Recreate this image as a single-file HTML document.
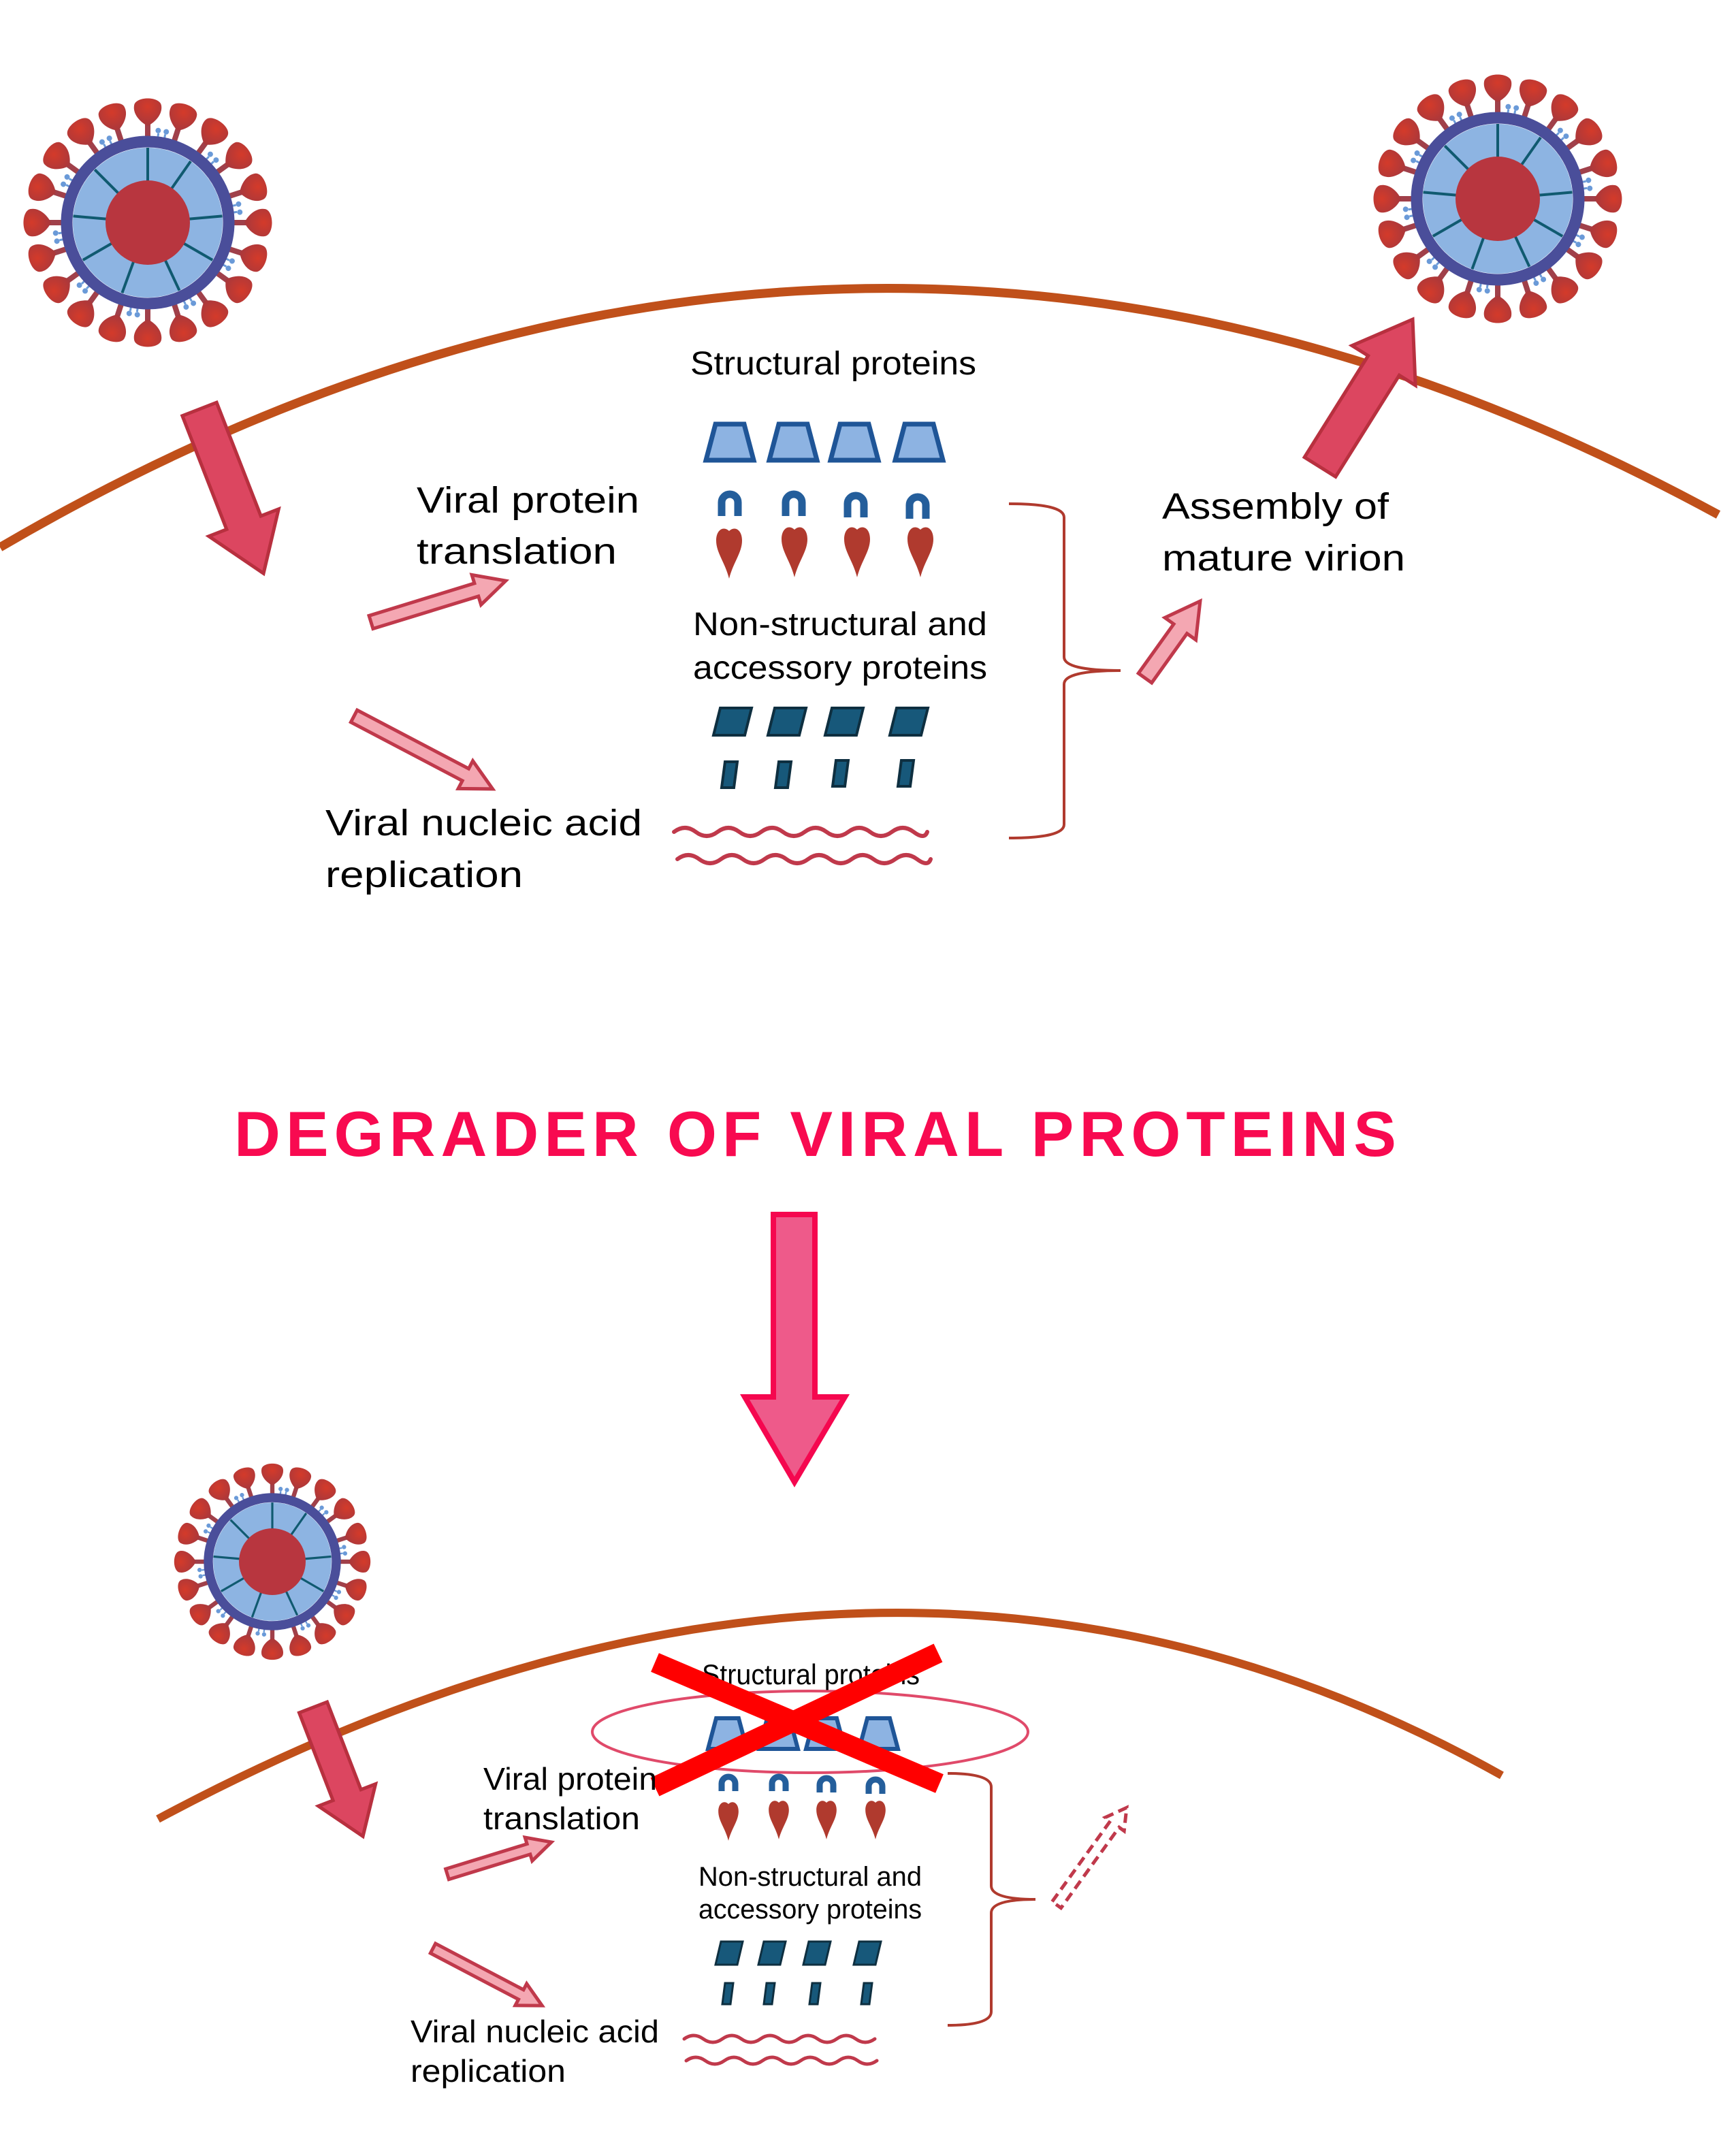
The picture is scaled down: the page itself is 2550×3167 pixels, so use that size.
<!DOCTYPE html>
<html><head><meta charset="utf-8"><style>
html,body{margin:0;padding:0;background:#fff;}
svg{display:block;}
text{font-family:"Liberation Sans",sans-serif;fill:#000;}
</style></head><body>
<svg width="2550" height="3167" viewBox="0 0 2550 3167" xmlns="http://www.w3.org/2000/svg">
<defs>
<radialGradient id="bulb" cx="50%" cy="30%" r="70%"><stop offset="0" stop-color="#D43A2A"/><stop offset="1" stop-color="#A8383C"/></radialGradient>
<g id="spike">
<rect x="-4" y="-150" width="8" height="28" fill="#A0404A"/>
<path d="M0,-142 C-12,-148 -22,-160 -20,-172 C-18,-186 18,-186 20,-172 C22,-160 12,-148 0,-142Z" fill="url(#bulb)"/>
</g>
<g id="spoke"><line x1="0" y1="-60" x2="0" y2="-110" stroke="#105A70" stroke-width="4"/></g>
<g id="ubit"><path d="M-5,-118 V-132 M5,-118 V-132" stroke="#6A9AD8" stroke-width="3" fill="none"/><circle cx="-6" cy="-136" r="4" fill="#6A9AD8"/><circle cx="6" cy="-136" r="4" fill="#6A9AD8"/></g>
<g id="virion">
<use href="#spike" transform="rotate(0)"/><use href="#spike" transform="rotate(18)"/><use href="#spike" transform="rotate(36)"/><use href="#spike" transform="rotate(54)"/><use href="#spike" transform="rotate(72)"/><use href="#spike" transform="rotate(90)"/><use href="#spike" transform="rotate(108)"/><use href="#spike" transform="rotate(126)"/><use href="#spike" transform="rotate(144)"/><use href="#spike" transform="rotate(162)"/><use href="#spike" transform="rotate(180)"/><use href="#spike" transform="rotate(198)"/><use href="#spike" transform="rotate(216)"/><use href="#spike" transform="rotate(234)"/><use href="#spike" transform="rotate(252)"/><use href="#spike" transform="rotate(270)"/><use href="#spike" transform="rotate(288)"/><use href="#spike" transform="rotate(306)"/><use href="#spike" transform="rotate(324)"/><use href="#spike" transform="rotate(342)"/>
<use href="#ubit" transform="rotate(9)"/><use href="#ubit" transform="rotate(45)"/><use href="#ubit" transform="rotate(81)"/><use href="#ubit" transform="rotate(117)"/><use href="#ubit" transform="rotate(153)"/><use href="#ubit" transform="rotate(189)"/><use href="#ubit" transform="rotate(225)"/><use href="#ubit" transform="rotate(261)"/><use href="#ubit" transform="rotate(297)"/><use href="#ubit" transform="rotate(333)"/>
<circle r="119" fill="none" stroke="#4A4E9A" stroke-width="17"/>
<circle r="110" fill="#8DB4E2"/>
<use href="#spoke" transform="rotate(0)"/><use href="#spoke" transform="rotate(35)"/><use href="#spoke" transform="rotate(85)"/><use href="#spoke" transform="rotate(120)"/><use href="#spoke" transform="rotate(155)"/><use href="#spoke" transform="rotate(200)"/><use href="#spoke" transform="rotate(240)"/><use href="#spoke" transform="rotate(275)"/><use href="#spoke" transform="rotate(315)"/>
<circle r="62" fill="#B8363F"/>
</g>
<path id="heart" d="M0,0 C-8,-8 -19,-2 -19,14 C-19,32 -6,46 0,70 C6,46 19,32 19,14 C19,-2 8,-8 0,0Z" fill="#B03A2E"/>
</defs>

<path d="M0,804 Q1260,68 2524,756" fill="none" stroke="#C0501A" stroke-width="13"/>
<path d="M232,2672 Q1300,2100 2206,2608" fill="none" stroke="#C0501A" stroke-width="12"/>

<use href="#virion" transform="translate(217,327)"/>
<use href="#virion" transform="translate(2200,292)"/>
<use href="#virion" transform="translate(400,2294) scale(0.79)"/>

<g fill="#DC4660" stroke="#B8303F" stroke-width="5">
<polygon transform="translate(293,601) rotate(68.7)" points="0,-27 179,-27 179,-55 259,0 179,55 179,27 0,27"/>
<polygon transform="translate(1939,686) rotate(-57.9)" points="0,-27 176,-27 176,-55 256,0 176,55 176,27 0,27"/>
<polygon transform="translate(460,2508) rotate(68.9)" points="0,-22 138,-22 138,-45 203,0 138,45 138,22 0,22"/>
</g>
<g fill="#F4A7B2" stroke="#C0394B" stroke-width="5">
<polygon transform="translate(545,914) rotate(-17.1)" points="0,-10 162,-10 162,-23 207,0 162,23 162,10 0,10"/>
<polygon transform="translate(520,1052) rotate(27.7)" points="0,-10 185,-10 185,-23 230,0 185,23 185,10 0,10"/>
<polygon transform="translate(1682,996) rotate(-54.4)" points="0,-12 89,-12 89,-28 139,0 89,28 89,12 0,12"/>
<polygon transform="translate(657,2753) rotate(-17.1)" points="0,-8 125,-8 125,-18 160,0 125,18 125,8 0,8"/>
<polygon transform="translate(636,2862) rotate(27.7)" points="0,-8 146,-8 146,-18 181,0 146,18 146,8 0,8"/>
</g>
<polygon transform="translate(1552,2798) rotate(-54.2)" points="0,-8 146,-8 146,-17 176,0 146,17 146,8 0,8" fill="none" stroke="#C0394B" stroke-width="5" stroke-dasharray="14,8"/>

<text x="1224" y="550" font-size="48" text-anchor="middle" textLength="420" lengthAdjust="spacingAndGlyphs">Structural proteins</text>
<text x="612" y="753" font-size="54" textLength="327" lengthAdjust="spacingAndGlyphs">Viral protein</text>
<text x="612" y="828" font-size="54" textLength="294" lengthAdjust="spacingAndGlyphs">translation</text>
<text x="1707" y="762" font-size="54" textLength="333" lengthAdjust="spacingAndGlyphs">Assembly of</text>
<text x="1707" y="838" font-size="54" textLength="357" lengthAdjust="spacingAndGlyphs">mature virion</text>
<text x="1018" y="933" font-size="48" textLength="432" lengthAdjust="spacingAndGlyphs">Non-structural and</text>
<text x="1018" y="997" font-size="48" textLength="432" lengthAdjust="spacingAndGlyphs">accessory proteins</text>
<text x="478" y="1227" font-size="54" textLength="465" lengthAdjust="spacingAndGlyphs">Viral nucleic acid</text>
<text x="478" y="1303" font-size="54" textLength="290" lengthAdjust="spacingAndGlyphs">replication</text>

<g fill="#8DB3E2" stroke="#1F5597" stroke-width="7" stroke-linejoin="miter">
<polygon points="1037,676 1107,676 1093,623 1051,623"/>
<polygon points="1130,676 1200,676 1186,623 1144,623"/>
<polygon points="1220,676 1290,676 1276,623 1234,623"/>
<polygon points="1315,676 1385,676 1371,623 1329,623"/>
</g>
<g fill="none" stroke="#245E9B" stroke-width="11">
<path d="M1060,758 V738 A12,12 0 0 1 1084,738 V758"/>
<path d="M1154,758 V738 A12,12 0 0 1 1178,738 V758"/>
<path d="M1245,760 V740 A12,12 0 0 1 1269,740 V760"/>
<path d="M1336,762 V742 A12,12 0 0 1 1360,742 V762"/>
</g>
<use href="#heart" transform="translate(1071,780)"/>
<use href="#heart" transform="translate(1167,778)"/>
<use href="#heart" transform="translate(1259,778)"/>
<use href="#heart" transform="translate(1352,778)"/>
<g fill="#17587A" stroke="#0E2F40" stroke-width="4">
<polygon points="1048,1080 1094,1080 1104,1040 1058,1040"/>
<polygon points="1128,1080 1174,1080 1184,1040 1138,1040"/>
<polygon points="1212,1080 1258,1080 1268,1040 1222,1040"/>
<polygon points="1307,1080 1353,1080 1363,1040 1317,1040"/>
<polygon points="1060,1157 1078,1157 1083,1119 1065,1119"/>
<polygon points="1139,1157 1157,1157 1162,1119 1144,1119"/>
<polygon points="1223,1155 1241,1155 1246,1117 1228,1117"/>
<polygon points="1319,1155 1337,1155 1342,1117 1324,1117"/>
</g>
<g fill="none" stroke="#C0394B" stroke-width="6" stroke-linecap="round">
<path d="M990,1222 q16,-12 32,0 t32,0 t32,0 t32,0 t32,0 t32,0 t32,0 t32,0 t32,0 t32,0 t32,0 t20,0"/>
<path d="M995,1262 q16,-12 32,0 t32,0 t32,0 t32,0 t32,0 t32,0 t32,0 t32,0 t32,0 t32,0 t32,0 t20,0"/>
</g>
<path d="M1482,740 Q1563,740 1563,760 V965 Q1563,985 1646,985 Q1563,985 1563,1005 V1211 Q1563,1231 1482,1231" fill="none" stroke="#B03A2E" stroke-width="4"/>

<text x="344" y="1698" font-size="94" font-weight="bold" textLength="1707" lengthAdjust="spacing" style="fill:#F80A50">DEGRADER OF VIRAL PROTEINS</text>
<polygon points="1136,1784 1197,1784 1197,2052 1241,2052 1167,2177 1094,2052 1136,2052" fill="#EE5A8A" stroke="#F5074F" stroke-width="8" stroke-linejoin="miter"/>

<ellipse cx="1190" cy="2544" rx="320" ry="60" fill="none" stroke="#E04A6A" stroke-width="4"/>
<text x="1031" y="2474" font-size="42" textLength="320" lengthAdjust="spacingAndGlyphs">Structural proteins</text>
<g fill="#8DB3E2" stroke="#1F5597" stroke-width="6">
<polygon points="1040,2569 1097,2569 1085,2524 1052,2524"/>
<polygon points="1115,2569 1172,2569 1160,2524 1127,2524"/>
<polygon points="1184,2569 1241,2569 1229,2524 1196,2524"/>
<polygon points="1262,2569 1319,2569 1307,2524 1274,2524"/>
</g>
<g fill="none" stroke="#245E9B" stroke-width="9">
<path d="M1060,2631 V2620 A10,10 0 0 1 1080,2620 V2631"/>
<path d="M1134,2631 V2620 A10,10 0 0 1 1154,2620 V2631"/>
<path d="M1204,2633 V2622 A10,10 0 0 1 1224,2622 V2633"/>
<path d="M1276,2635 V2624 A10,10 0 0 1 1296,2624 V2635"/>
</g>
<use href="#heart" transform="translate(1070,2650) scale(0.78,0.77)"/>
<use href="#heart" transform="translate(1144,2648) scale(0.78,0.77)"/>
<use href="#heart" transform="translate(1214,2648) scale(0.78,0.77)"/>
<use href="#heart" transform="translate(1286,2648) scale(0.78,0.77)"/>
<line x1="962" y1="2442" x2="1380" y2="2620" stroke="#FF0000" stroke-width="30"/>
<line x1="1378" y1="2428" x2="962" y2="2625" stroke="#FF0000" stroke-width="30"/>
<text x="710" y="2629" font-size="46" textLength="255" lengthAdjust="spacingAndGlyphs">Viral protein</text>
<text x="710" y="2687" font-size="46" textLength="230" lengthAdjust="spacingAndGlyphs">translation</text>
<text x="1026" y="2770" font-size="40" textLength="328" lengthAdjust="spacingAndGlyphs">Non-structural and</text>
<text x="1026" y="2818" font-size="40" textLength="328" lengthAdjust="spacingAndGlyphs">accessory proteins</text>
<text x="603" y="3000" font-size="46" textLength="365" lengthAdjust="spacingAndGlyphs">Viral nucleic acid</text>
<text x="603" y="3058" font-size="46" textLength="228" lengthAdjust="spacingAndGlyphs">replication</text>
<g fill="#17587A" stroke="#0E2F40" stroke-width="3">
<polygon points="1051,2886 1083,2886 1091,2852 1059,2852"/>
<polygon points="1114,2886 1146,2886 1154,2852 1122,2852"/>
<polygon points="1180,2886 1212,2886 1220,2852 1188,2852"/>
<polygon points="1254,2886 1286,2886 1294,2852 1262,2852"/>
<polygon points="1061,2944 1073,2944 1077,2913 1065,2913"/>
<polygon points="1122,2944 1134,2944 1138,2913 1126,2913"/>
<polygon points="1189,2944 1201,2944 1205,2913 1193,2913"/>
<polygon points="1265,2944 1277,2944 1281,2913 1269,2913"/>
</g>
<g fill="none" stroke="#C0394B" stroke-width="5" stroke-linecap="round">
<path d="M1005,2995 q14,-10 28,0 t28,0 t28,0 t28,0 t28,0 t28,0 t28,0 t28,0 t28,0 t28,0"/>
<path d="M1008,3027 q14,-10 28,0 t28,0 t28,0 t28,0 t28,0 t28,0 t28,0 t28,0 t28,0 t28,0"/>
</g>
<path d="M1392,2605 Q1456,2605 1456,2625 V2770 Q1456,2790 1521,2790 Q1456,2790 1456,2810 V2955 Q1456,2975 1392,2975" fill="none" stroke="#B03A2E" stroke-width="4"/>
</svg>
</body></html>
